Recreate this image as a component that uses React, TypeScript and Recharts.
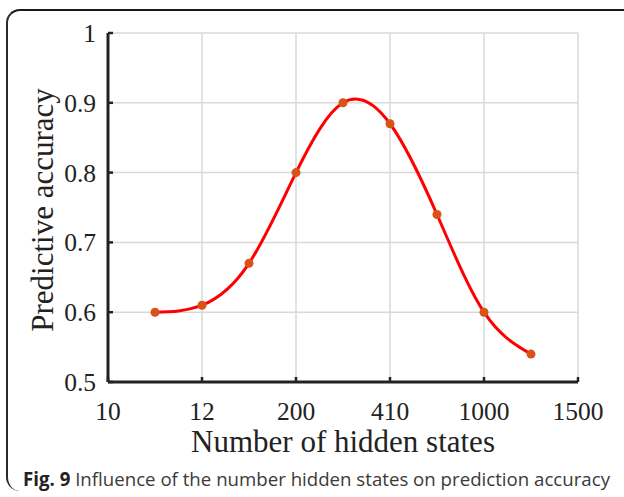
import React from "react";
import { LineChart, Line, XAxis, YAxis, CartesianGrid, Label } from "recharts";

const xPositions = [1, 2, 3, 4, 5, 6, 7, 8, 9];
const accuracy = [0.6, 0.61, 0.67, 0.8, 0.9, 0.87, 0.74, 0.6, 0.54];
const xTickPositions = [0, 2, 4, 6, 8, 10];
const xTickLabels = ["10", "12", "200", "410", "1000", "1500"];
const yTicks = [0.5, 0.6, 0.7, 0.8, 0.9, 1];
const yTickLabels = ["0.5", "0.6", "0.7", "0.8", "0.9", "1"];

const data = xPositions.map((x, i) => ({ x, acc: accuracy[i] }));

const SERIF = "'Liberation Serif', 'Times New Roman', serif";
const AXIS = "#222222";
const X_MARGIN = 20;
const Y_MARGIN = 12;
const TICK_LEN = 5;

const XTick = (props: any) => {
  const { x, y, payload } = props;
  const axisY = y - X_MARGIN;
  const label = xTickLabels[xTickPositions.indexOf(payload.value)] ?? "";
  return (
    <g>
      <line x1={x} x2={x} y1={axisY} y2={axisY - TICK_LEN} stroke={AXIS} strokeWidth={2.5} />
      <text x={x} y={y} dy="0.71em" textAnchor="middle" fontFamily={SERIF} fontSize={25.5} fill={AXIS}>
        {label}
      </text>
    </g>
  );
};

const YTick = (props: any) => {
  const { x, y, payload } = props;
  const axisX = x + Y_MARGIN;
  const label = yTickLabels[yTicks.indexOf(payload.value)] ?? String(payload.value);
  return (
    <g>
      <line x1={axisX} x2={axisX + TICK_LEN} y1={y} y2={y} stroke={AXIS} strokeWidth={2.5} />
      <text x={x} y={y} dy="0.355em" textAnchor="end" fontFamily={SERIF} fontSize={25.5} fill={AXIS}>
        {label}
      </text>
    </g>
  );
};

const XTitle = () => (
  <g>
    <text x={343} y={452} textAnchor="middle" fontFamily={SERIF} fontSize={31} fill={AXIS}>
      Number of hidden states
    </text>
    <text
      x={23}
      y={485.5}
      fontFamily="'Open Sans', 'Noto Sans', sans-serif"
      fontSize={19}
      fill="#3a3a3a"
      textLength={587}
      lengthAdjust="spacingAndGlyphs"
    >
      <tspan fontWeight="bold" fill="#222">Fig. 9</tspan>
      <tspan> Influence of the number hidden states on prediction accuracy</tspan>
    </text>
  </g>
);

const YTitle = () => (
  <text
    x={53}
    y={210}
    transform="rotate(-90 53 210)"
    textAnchor="middle"
    fontFamily={SERIF}
    fontSize={31}
    fill={AXIS}
  >
    Predictive accuracy
  </text>
);

export default function App() {
  return (
    <div style={{ position: "absolute", left: 0, top: 0, width: 624, height: 497, background: "#fff" }}>
      <div
        style={{
          position: "absolute",
          left: 6,
          top: 9,
          width: 640,
          height: 482,
          borderTop: "2px solid #1a1a1a",
          borderLeft: "2px solid #2a2a2a",
          borderTopLeftRadius: 14,
          borderBottomLeftRadius: 14,
          boxSizing: "border-box",
        }}
      />
      <div style={{ position: "absolute", left: 0, top: 0 }}>
        <LineChart width={624} height={497} data={data} margin={{ top: 33, right: 46, bottom: 75, left: 48 }}>
          <CartesianGrid stroke="#d9d9d9" strokeWidth={1.5} />
          <XAxis
            dataKey="x"
            type="number"
            domain={[0, 10]}
            ticks={xTickPositions}
            height={40}
            tickSize={0}
            tickMargin={X_MARGIN}
            axisLine={{ stroke: AXIS, strokeWidth: 3 }}
            tickLine={false}
            tick={XTick}
            interval={0}
          >
            <Label content={XTitle} />
          </XAxis>
          <YAxis
            type="number"
            domain={[0.5, 1]}
            ticks={yTicks}
            width={60}
            tickSize={0}
            tickMargin={Y_MARGIN}
            axisLine={{ stroke: AXIS, strokeWidth: 3 }}
            tickLine={false}
            tick={YTick}
            interval={0}
          >
            <Label content={YTitle} />
          </YAxis>
          <Line
            dataKey="acc"
            type="natural"
            stroke="#ff0000"
            strokeWidth={3}
            dot={{ r: 4.5, fill: "#d95319", stroke: "#d95319", strokeWidth: 0 }}
            activeDot={false}
            isAnimationActive={false}
          />
        </LineChart>
      </div>
    </div>
  );
}
